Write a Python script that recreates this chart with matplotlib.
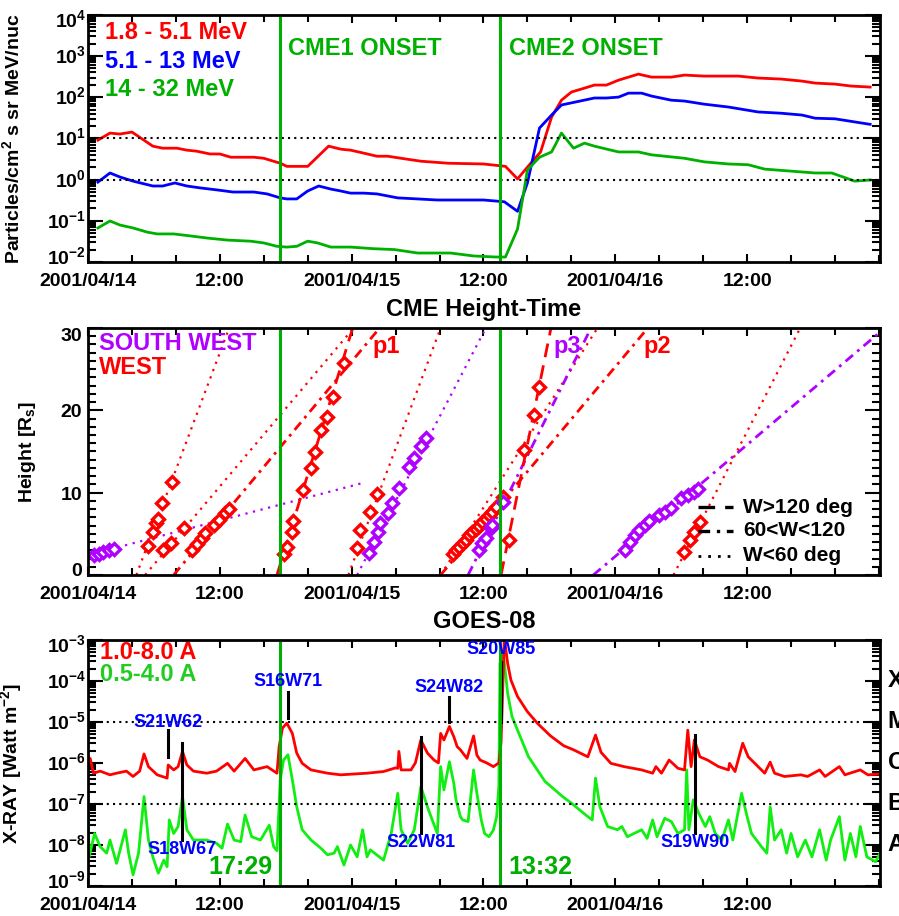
#!/usr/bin/env python3
"""SEP flux, CME height-time and GOES X-ray overview, 2001/04/14 - 2001/04/16"""
import matplotlib
matplotlib.use('Agg')
import matplotlib.pyplot as plt
import numpy as np
from matplotlib.lines import Line2D
from matplotlib.ticker import FixedLocator, MultipleLocator, LogLocator, NullFormatter
from matplotlib.transforms import blended_transform_factory, ScaledTranslation

plt.rcParams['font.family'] = ['Liberation Sans', 'DejaVu Sans']
plt.rcParams['font.weight'] = 'bold'
plt.rcParams['mathtext.fontset'] = 'custom'
plt.rcParams['mathtext.rm'] = 'Liberation Sans:bold'
plt.rcParams['mathtext.it'] = 'Liberation Sans:bold'
plt.rcParams['mathtext.bf'] = 'Liberation Sans:bold'
plt.rcParams['mathtext.default'] = 'rm'

RED = '#FF0000'
BLUE = '#0000FF'
GREEN = '#00B000'
LIME = '#11EE11'
PURPLE = '#B000FF'

# time axis: hours after 2001/04/14 00:00 UT
tick_hours = [0, 12, 24, 36, 48, 60]
tick_labels = ['2001/04/14', '12:00', '2001/04/15', '12:00', '2001/04/16', '12:00']
onset_hours = [17.48, 37.53]
onset_labels = ['17:29', '13:32']

# ---- proton intensities [particles/cm2 s sr MeV/nuc]
p_low_time = [0.9, 2.0, 2.9, 4.0, 5.9, 6.8, 8.1, 9.0, 9.9, 11.1, 12.0, 13.0, 13.9, 15.1, 16.0, 17.5,
              18.1, 20.0, 21.9, 23.0, 23.9, 25.1, 26.3, 27.3, 28.5, 30.3, 32.8, 36.0, 38.0, 39.1, 40.3,
              41.2, 42.2, 43.1, 44.0, 45.2, 46.1, 47.2, 48.3, 50.1, 51.3, 53.1, 54.3, 56.1, 59.2, 61.0,
              63.1, 65.0, 66.2, 68.0, 69.5, 71.2]
p_low_flux = [9.1, 13.5, 12.8, 14.3, 6.5, 5.8, 5.8, 5.2, 4.9, 4.2, 4.2, 3.5, 3.5, 3.5, 3.3, 2.5,
              2.1, 2.1, 6.5, 5.5, 5.2, 4.4, 3.7, 3.7, 3.3, 2.8, 2.5, 2.4, 2.1, 1.04, 2.5,
              4.7, 33, 85, 134, 167, 198, 198, 261, 365, 309, 309, 346, 327, 327, 293,
              277, 247, 221, 209, 187, 177]
p_mid_time = [0.9, 2.0, 2.9, 4.1, 5.9, 6.8, 7.9, 9.0, 10.2, 11.8, 13.2, 15.1, 16.3, 17.5, 18.1, 19.0,
              20.0, 21.0, 22.1, 23.0, 23.9, 25.1, 26.3, 28.2, 30.0, 31.8, 36.0, 37.9, 39.1, 40.0,
              41.1, 42.2, 43.1, 44.3, 46.1, 47.2, 48.3, 49.2, 50.4, 51.3, 53.1, 54.3, 56.1, 58.3,
              61.0, 63.1, 65.0, 66.2, 68.0, 71.2]
p_mid_flux = [0.87, 1.45, 1.16, 0.92, 0.70, 0.70, 0.83, 0.70, 0.63, 0.56, 0.50, 0.50, 0.45, 0.36, 0.34, 0.34,
              0.53, 0.70, 0.59, 0.53, 0.47, 0.47, 0.45, 0.36, 0.34, 0.32, 0.32, 0.29, 0.17, 0.83,
              17.9, 37, 65, 76, 96, 96, 101, 126, 126, 107, 85, 81, 68, 58,
              44, 41, 37, 31, 30, 22]
p_high_time = [0.9, 2.0, 2.9, 4.1, 5.4, 6.3, 7.8, 9.3, 10.9, 12.7, 14.8, 16.0, 17.2, 18.1, 19.0, 20.0,
               20.9, 22.1, 23.9, 26.0, 27.9, 30.0, 31.5, 33.0, 35.1, 37.1, 38.0, 39.1, 40.0, 41.1,
               42.2, 43.1, 44.2, 45.2, 46.1, 48.3, 50.1, 51.3, 54.3, 56.1, 58.3, 60.1, 61.6, 64.1,
               66.2, 67.7, 69.8, 71.2]
p_high_flux = [0.067, 0.099, 0.079, 0.067, 0.053, 0.048, 0.048, 0.043, 0.038, 0.034, 0.032, 0.029, 0.024,
               0.023, 0.024, 0.032, 0.029, 0.023, 0.023, 0.021, 0.020, 0.0165, 0.0165, 0.0165, 0.014,
               0.0132, 0.0132, 0.063, 1.71, 3.5, 4.7, 13.5, 5.8, 7.7, 6.5, 4.7, 4.7, 4.0, 3.3, 2.7,
               2.4, 2.3, 1.8, 1.6, 1.45, 1.45, 0.92, 0.98]
channel_labels = ['1.8 - 5.1 MeV', '5.1 - 13 MeV', '14 - 32 MeV']

# ---- CME height-time points [hours, R_sun]; w = WEST (red), sw = SOUTH WEST (purple)
sw1_time = [0.5, 1.0, 1.4, 1.9, 2.4]
sw1_height = [2.4, 2.6, 2.8, 3.0, 3.2]
w1_time = [5.45, 5.9, 6.15, 6.35, 6.7, 7.65]
w1_height = [3.5, 5.2, 6.3, 6.8, 8.7, 11.3]
w2_time = [6.87, 7.57, 8.7]
w2_height = [3.0, 3.9, 5.7]
w3_time = [9.46, 9.92, 10.37, 10.68, 11.44, 11.9, 12.5, 12.8]
w3_height = [3.0, 3.8, 4.5, 5.1, 6.1, 6.7, 7.5, 8.0]
w4_time = [17.8, 18.1, 18.6, 18.7, 19.6, 20.3, 20.7, 21.2, 21.8, 22.3, 23.3]
w4_height = [2.6, 3.4, 5.2, 6.6, 10.3, 13.0, 14.9, 17.6, 19.2, 21.6, 25.8]
w5_time = [24.5, 24.8, 25.7, 26.3]
w5_height = [3.3, 5.5, 7.7, 9.8]
sw2_time = [25.55, 26.0, 26.4, 26.6, 27.3, 27.7, 28.3, 29.2, 29.7, 30.3, 30.8]
sw2_height = [2.7, 4.0, 5.2, 6.3, 7.5, 8.7, 10.6, 13.1, 14.2, 15.7, 16.6]
w6_time = [33.2, 33.5, 33.8, 34.1, 34.4, 34.7, 35.0, 35.3, 35.6, 35.9, 36.2, 36.5, 36.8, 37.1, 37.8]
w6_height = [2.6, 3.0, 3.4, 3.9, 4.3, 4.8, 5.2, 5.6, 6.0, 6.4, 6.8, 7.3, 7.7, 8.2, 9.5]
sw3_time = [35.6, 35.9, 36.2, 36.7, 36.8, 37.75]
sw3_height = [3.0, 3.85, 4.5, 5.7, 6.1, 8.9]
w7_time = [38.3, 39.7, 40.6, 41.1]
w7_height = [4.3, 15.2, 19.4, 22.8]
sw4_time = [48.85, 49.3, 49.76, 50.2, 50.67, 51.1, 52.0, 52.5, 53.1, 54.0, 54.6, 55.2, 55.5]
sw4_height = [3.0, 4.05, 4.9, 5.5, 6.1, 6.5, 7.3, 7.7, 8.1, 9.3, 9.7, 10.1, 10.5]
w8_time = [54.3, 54.8, 55.2, 55.7]
w8_height = [2.8, 4.2, 5.2, 6.4]

# linear fits: height = speed * (t - onset), width class -> line style
fit_region = ['sw', 'w', 'w', 'w', 'w', 'w', 'sw', 'w', 'w', 'sw', 'w', 'sw', 'w']
fit_width = ['lt60', 'lt60', 'lt60', '60-120', 'gt120', 'lt60', 'lt60', 'lt60', '60-120', '60-120',
             'gt120', '60-120', 'lt60']
fit_onset = [-6.9, 4.4, 5.2, 7.8, 17.2, 23.7, 24.5, 32.1, 32.1, 34.6, 37.6, 46.0, 53.3]
fit_speed = [0.35, 3.55, 1.58, 1.6, 4.35, 3.57, 2.56, 2.1, 1.59, 2.68, 6.6, 1.13, 2.6]
fit_end = [25.0, None, None, None, None, None, None, None, None, None, None, None, None]
cme_names = ['p1', 'p3', 'p2']
cme_name_time = [25.9, 42.4, 50.6]
cme_name_region = ['w', 'sw', 'w']
width_labels = ['W>120 deg', '60<W<120', 'W<60 deg']

# ---- GOES-08 X-ray, log10 flux [W m-2]
long_time = [0.0, 0.2, 0.5, 1.1, 2.0, 2.6, 3.5, 4.1, 4.7, 5.1, 5.5, 6.3, 7.2, 7.3, 7.8, 8.2, 8.6, 9.0,
             9.6, 10.8, 11.7, 12.7, 13.3, 14.3, 15.1, 16.3, 17.2, 17.4, 17.7, 18.1, 18.6, 19.0, 19.5,
             20.3, 21.8, 23.0, 24.2, 25.4, 26.9, 28.0, 28.2, 28.3, 28.5, 29.4, 29.8, 30.3, 30.9, 31.5,
             31.9, 32.1, 32.4, 32.9, 33.3, 33.6, 33.9, 34.5, 35.1, 35.4, 35.7, 36.3, 36.9, 37.4, 37.6,
             37.9, 38.2, 38.5, 39.1, 40.0, 40.9, 42.1, 43.3, 44.2, 45.5, 46.2, 46.7, 47.6, 48.8, 50.4,
             51.4, 51.7, 52.2, 52.9, 53.7, 54.3, 54.6, 54.9, 55.2, 55.7, 56.4, 57.4, 58.3, 58.4, 58.9,
             59.6, 60.1, 61.0, 61.6, 62.1, 62.5, 63.4, 64.9, 65.5, 66.6, 67.1, 68.4, 68.9, 70.3, 71.0,
             72.1]
long_log10 = [-5.93, -5.89, -6.25, -6.20, -6.29, -6.25, -6.20, -6.33, -6.20, -5.78, -6.09, -6.29, -6.37,
              -6.05, -6.17, -6.09, -5.72, -6.05, -6.20, -6.25, -6.20, -6.01, -6.20, -5.89, -6.17, -6.09,
              -6.25, -5.60, -5.15, -5.03, -5.28, -5.76, -6.01, -6.17, -6.25, -6.29, -6.27, -6.25, -6.21,
              -6.12, -6.13, -5.72, -6.17, -6.17, -6.00, -5.44, -5.76, -5.93, -6.00, -5.28, -5.44, -5.11,
              -5.36, -5.60, -5.68, -5.89, -5.34, -5.81, -5.93, -6.00, -6.09, -6.00, -5.50, -2.95, -3.57,
              -3.98, -4.38, -4.75, -5.03, -5.34, -5.58, -5.68, -5.85, -5.32, -5.74, -6.01, -6.09, -6.17,
              -6.25, -6.09, -6.25, -5.93, -6.13, -6.17, -5.20, -6.09, -5.44, -5.85, -5.93, -6.09, -6.17,
              -6.01, -6.21, -5.52, -5.85, -6.09, -6.25, -5.98, -6.25, -6.33, -6.29, -6.33, -6.17, -6.33,
              -6.09, -6.29, -6.17, -6.29, -6.27]
short_time = [0.0, 0.1, 0.6, 1.1, 1.7, 2.0, 2.6, 3.4, 3.7, 4.1, 4.6, 5.1, 5.5, 5.9, 6.4, 6.9, 7.2, 7.4,
              7.8, 8.2, 8.6, 9.0, 9.6, 10.8, 11.7, 12.2, 12.7, 13.3, 13.9, 14.3, 14.9, 15.7, 16.5, 16.9,
              17.2, 17.5, 17.8, 18.2, 18.6, 19.0, 19.5, 20.3, 21.2, 21.8, 22.4, 22.7, 23.3, 23.9, 24.5,
              25.0, 25.4, 25.7, 26.9, 27.6, 28.2, 28.5, 29.1, 29.7, 30.3, 31.0, 31.8, 32.1, 32.4, 32.9,
              33.3, 33.5, 33.9, 34.1, 34.6, 35.1, 35.4, 35.8, 36.1, 36.5, 36.9, 37.2, 37.4, 37.5, 37.8,
              38.2, 38.6, 39.1, 40.1, 41.6, 43.2, 44.0, 45.5, 45.9, 46.2, 46.6, 47.3, 48.2, 48.6, 49.1,
              49.7, 50.4, 50.9, 51.4, 51.8, 52.5, 53.1, 53.7, 54.3, 54.5, 54.7, 55.1, 55.6, 56.2, 56.6,
              57.1, 57.7, 58.3, 58.7, 59.5, 60.0, 60.4, 61.3, 61.8, 62.1, 62.5, 63.1, 63.6, 64.0, 64.6,
              65.3, 65.9, 66.6, 67.2, 67.6, 68.4, 68.9, 69.4, 69.9, 70.3, 70.9, 71.7, 72.3]
short_log10 = [-7.07, -8.29, -7.72, -8.04, -8.20, -7.88, -8.45, -7.63, -8.20, -8.73, -8.20, -6.82, -7.88,
               -8.29, -8.69, -8.37, -8.53, -7.39, -7.72, -7.55, -6.82, -7.63, -7.88, -7.88, -7.96, -8.08,
               -7.49, -7.88, -7.92, -7.27, -7.80, -7.88, -7.52, -8.04, -8.14, -6.41, -5.93, -5.80, -6.41,
               -7.07, -7.63, -7.88, -8.08, -8.24, -8.20, -8.04, -8.49, -8.00, -8.29, -7.63, -8.29, -8.12,
               -8.37, -7.72, -6.74, -7.63, -7.96, -7.63, -6.58, -7.15, -7.72, -6.09, -6.66, -5.97, -6.50,
               -6.90, -7.31, -7.39, -7.43, -6.17, -6.74, -7.39, -7.72, -7.80, -7.64, -7.31, -6.56, -3.57,
               -3.30, -4.30, -4.87, -5.20, -5.85, -6.45, -6.82, -6.98, -7.31, -7.39, -6.37, -7.07, -7.55,
               -7.63, -7.55, -7.80, -7.72, -7.63, -7.84, -7.39, -7.80, -7.35, -7.43, -7.72, -7.63, -6.17,
               -7.63, -6.90, -7.23, -7.55, -7.31, -7.72, -7.88, -7.39, -7.88, -6.74, -7.31, -7.72, -8.04,
               -8.20, -7.07, -7.88, -7.63, -8.20, -7.72, -8.29, -7.88, -8.29, -7.63, -8.37, -7.88, -7.31,
               -8.37, -7.72, -8.29, -7.55, -8.29, -8.41, -8.10]
band_labels = ['1.0-8.0 A', '0.5-4.0 A']

# flare sources: time, marker line span and label height (log10 flux)
flare_names = ['S21W62', 'S18W67', 'S16W71', 'S22W81', 'S24W82', 'S20W85', 'S19W90']
flare_time = [7.3, 8.6, 18.2, 30.3, 32.9, 37.62, 55.3]
flare_line_top = [-5.20, -5.51, -4.27, -5.37, -4.39, -3.53, -5.32]
flare_line_bottom = [-5.85, -7.88, -4.90, -7.70, -5.00, -5.00, -7.70]
flare_label_level = [-5.02, -8.12, -4.02, -7.93, -4.17, -3.24, -7.95]
goes_classes = ['X', 'M', 'C', 'B', 'A']
goes_class_level = [-4, -5, -6, -7, -8]

DOTTED = (0, (1, 2))
FIT_STYLE = {'lt60': (0, (1, 2.5)), '60-120': (0, (3.5, 2, 1, 2)), 'gt120': (0, (5, 3))}
FIT_LW = {'lt60': 1.6, '60-120': 2.0, 'gt120': 2.0}
REGION_COLOR = {'w': RED, 'sw': PURPLE}


def setup_time_axis(ax):
    """IDL-like time axis with inward ticks"""
    ax.set_xlim(0, 72.1)
    ax.xaxis.set_major_locator(FixedLocator(tick_hours))
    ax.set_xticklabels(tick_labels)
    ax.xaxis.set_minor_locator(MultipleLocator(4))
    ax.tick_params(axis='x', which='major', length=6, width=1.5, direction='in', top=True,
                   labelsize=14, pad=8)
    ax.tick_params(axis='x', which='minor', length=5, width=1.5, direction='in', top=True)
    for spine in ax.spines.values():
        spine.set_linewidth(2)


def put_y_labels(ax, values, texts, gap_px, end_shift_px):
    """Y tick labels drawn by hand so the end labels sit inside the axis range, as in IDL"""
    fig = ax.figure
    trans = blended_transform_factory(ax.transAxes, ax.transData)
    n = len(values)
    for i, (v, s) in enumerate(zip(values, texts)):
        dy = -7
        if i == 0:
            dy += end_shift_px
        elif i == n - 1:
            dy -= end_shift_px
        off = ScaledTranslation(-gap_px / 100.0, dy / 100.0, fig.dpi_scale_trans)
        ax.text(0, v, s, ha='right', va='baseline', fontsize=14, fontweight='bold',
                transform=trans + off, clip_on=False)


def setup_log_y(ax, lo, hi):
    ax.set_yscale('log')
    ax.set_ylim(10.0 ** lo, 10.0 ** hi)
    decades = [10.0 ** k for k in range(lo, hi + 1)]
    ax.yaxis.set_major_locator(FixedLocator(decades))
    ax.yaxis.set_minor_locator(LogLocator(base=10, subs=np.arange(2, 10), numticks=30))
    ax.yaxis.set_minor_formatter(NullFormatter())
    ax.tick_params(axis='y', which='major', length=11, width=1.5, direction='in', right=True,
                   labelleft=False)
    ax.tick_params(axis='y', which='minor', length=6, width=1.5, direction='in', right=True)
    put_y_labels(ax, decades, [r'$10^{%d}$' % k for k in range(lo, hi + 1)], 2, 5)


def draw_protons(ax):
    ax.plot(p_low_time, p_low_flux, color=RED, lw=2)
    ax.plot(p_mid_time, p_mid_flux, color=BLUE, lw=2)
    ax.plot(p_high_time, p_high_flux, color=GREEN, lw=2)
    setup_log_y(ax, -2, 4)
    setup_time_axis(ax)
    ax.axhline(10, color='black', ls=DOTTED, lw=1.5)
    ax.axhline(1, color='black', ls=DOTTED, lw=1.5)
    for t in onset_hours:
        ax.axvline(t, color=GREEN, lw=2.2)

    for label, color, y in zip(channel_labels, [RED, BLUE, GREEN], [0.927, 0.812, 0.698]):
        ax.text(0.022, y, label, color=color, fontsize=17, fontweight='bold',
                transform=ax.transAxes, va='center')
    trans = blended_transform_factory(ax.transData, ax.transAxes)
    for i, t in enumerate(onset_hours):
        ax.text(t + 0.75, 0.866, 'CME%d ONSET' % (i + 1), color=GREEN, fontsize=17,
                fontweight='bold', transform=trans, va='center')
    ax.set_ylabel('Particles/cm$^2$ s sr MeV/nuc', fontsize=14, fontweight='bold')
    ax.yaxis.set_label_coords(-0.082, 0.5)


def draw_height_time(ax):
    fits = zip(fit_region, fit_width, fit_onset, fit_speed, fit_end)
    for region, width, t0, v, t_end in fits:
        if t_end is None:
            t_end = t0 + 31.0 / v
        t = np.array([t0, t_end])
        ax.plot(t, v * (t - t0), color=REGION_COLOR[region], ls=FIT_STYLE[width], lw=FIT_LW[width])

    events = [(sw1_time, sw1_height, 'sw'), (w1_time, w1_height, 'w'), (w2_time, w2_height, 'w'),
              (w3_time, w3_height, 'w'), (w4_time, w4_height, 'w'), (w5_time, w5_height, 'w'),
              (sw2_time, sw2_height, 'sw'), (w6_time, w6_height, 'w'), (sw3_time, sw3_height, 'sw'),
              (w7_time, w7_height, 'w'), (sw4_time, sw4_height, 'sw'), (w8_time, w8_height, 'w')]
    for t, h, region in events:
        ax.plot(t, h, ls='none', marker='D', ms=6.5, mfc='white', mec=REGION_COLOR[region], mew=2.4)

    for t in onset_hours:
        ax.axvline(t, color=GREEN, lw=2.2)

    ax.set_ylim(0, 30)
    ax.yaxis.set_major_locator(MultipleLocator(10))
    ax.yaxis.set_minor_locator(MultipleLocator(1))
    ax.tick_params(axis='y', which='major', length=11, width=1.5, direction='in', right=True,
                   labelleft=False)
    ax.tick_params(axis='y', which='minor', length=5.5, width=1.5, direction='in', right=True)
    put_y_labels(ax, [0, 10, 20, 30], ['0', '10', '20', '30'], 6, 6)
    setup_time_axis(ax)

    ax.text(0.014, 0.935, 'SOUTH WEST', color=PURPLE, fontsize=17, fontweight='bold',
            transform=ax.transAxes, va='center')
    ax.text(0.014, 0.838, 'WEST', color=RED, fontsize=17, fontweight='bold',
            transform=ax.transAxes, va='center')
    for name, t, region in zip(cme_names, cme_name_time, cme_name_region):
        ax.text(t, 27.7, name, color=REGION_COLOR[region], fontsize=17, fontweight='bold', va='center')

    # width-class key
    for label, width, y in zip(width_labels, ['gt120', '60-120', 'lt60'], [0.275, 0.178, 0.077]):
        ax.add_line(Line2D([0.770, 0.814], [y, y], color='black', ls=FIT_STYLE[width],
                           lw=FIT_LW[width] + 0.4, transform=ax.transAxes))
        ax.text(0.827, y, label, fontsize=15, fontweight='bold', transform=ax.transAxes, va='center')

    ax.text(0.5, 1.073, 'CME Height-Time', fontsize=17, fontweight='bold', ha='center',
            va='center', transform=ax.transAxes)
    ax.set_ylabel('Height [R$_s$]', fontsize=14, fontweight='bold')
    ax.yaxis.set_label_coords(-0.063, 0.5)


def draw_goes(ax):
    ax.plot(short_time, 10.0 ** np.array(short_log10), color=LIME, lw=2)
    ax.plot(long_time, 10.0 ** np.array(long_log10), color=RED, lw=2)
    setup_log_y(ax, -9, -3)
    setup_time_axis(ax)
    ax.axhline(1e-5, color='black', ls=DOTTED, lw=1.5)
    ax.axhline(1e-7, color='black', ls=DOTTED, lw=1.5)

    for name, t, top, bot, lab in zip(flare_names, flare_time, flare_line_top, flare_line_bottom,
                                      flare_label_level):
        ax.plot([t, t], [10.0 ** bot, 10.0 ** top], color='black', lw=2.2)
        ax.text(t, 10.0 ** lab, name, color=BLUE, fontsize=13, fontweight='bold',
                ha='center', va='center')
    for t in onset_hours:
        ax.axvline(t, color=GREEN, lw=2.2)

    trans = blended_transform_factory(ax.transData, ax.transAxes)
    ax.text(onset_hours[0] - 0.7, 0.077, onset_labels[0], color=GREEN, fontsize=18,
            fontweight='bold', ha='right', va='center', transform=trans)
    ax.text(onset_hours[1] + 0.7, 0.077, onset_labels[1], color=GREEN, fontsize=18,
            fontweight='bold', ha='left', va='center', transform=trans)

    ax.text(0.015, 0.947, band_labels[0], color=RED, fontsize=17, fontweight='bold',
            transform=ax.transAxes, va='center')
    ax.text(0.015, 0.858, band_labels[1], color='#22CC22', fontsize=17, fontweight='bold',
            transform=ax.transAxes, va='center')

    side = blended_transform_factory(ax.transAxes, ax.transData)
    for cls, lev in zip(goes_classes, goes_class_level):
        ax.text(1.0095, 10.0 ** lev, cls, fontsize=17, fontweight='bold', va='center',
                transform=side, clip_on=False)

    ax.text(0.5, 1.073, 'GOES-08', fontsize=17, fontweight='bold', ha='center', va='center',
            transform=ax.transAxes)
    ax.set_ylabel('X-RAY [Watt m$^{-2}$]', fontsize=14, fontweight='bold')
    ax.yaxis.set_label_coords(-0.081, 0.5)


def main():
    fig = plt.figure(figsize=(8.99, 9.16), dpi=100, facecolor='white')
    ax_top = fig.add_axes([0.0979, 0.7140, 0.8810, 0.2697])
    ax_mid = fig.add_axes([0.0979, 0.3723, 0.8810, 0.2697])
    ax_bot = fig.add_axes([0.0979, 0.0328, 0.8810, 0.2686])

    draw_protons(ax_top)
    draw_height_time(ax_mid)
    draw_goes(ax_bot)

    fig.savefig('out.png', dpi=100)
    plt.close(fig)


if __name__ == '__main__':
    main()
